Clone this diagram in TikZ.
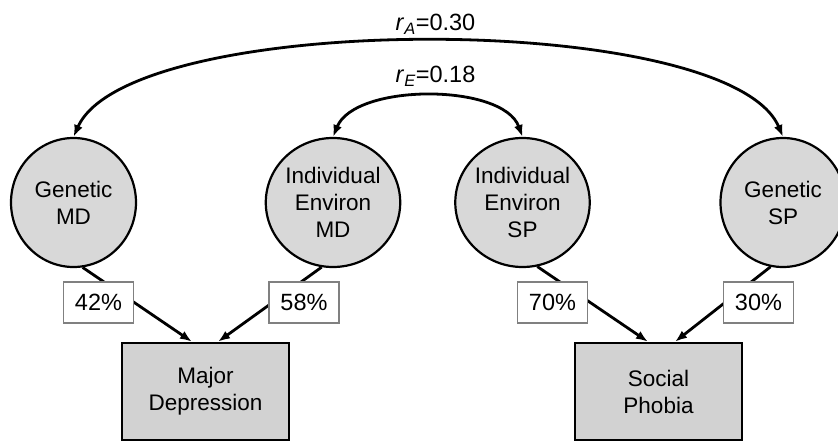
\documentclass[tikz,border=0pt]{standalone}
\usepackage{fontspec}
\setmainfont{Liberation Sans}
\usetikzlibrary{arrows.meta,shapes.geometric}
\definecolor{latentfill}{HTML}{D8D8D8}
\definecolor{obsfill}{HTML}{D2D2D2}
\definecolor{pathframe}{HTML}{808080}
\begin{document}
\begin{tikzpicture}[x=1pt,y=-1pt,
  latent/.style={ellipse,draw=black,line width=2.2pt,fill=latentfill,
    minimum width=125pt,minimum height=129pt,inner sep=0pt,align=center,
    font=\fontsize{22.5}{27}\selectfont},
  observed/.style={rectangle,draw=black,line width=2.5pt,fill=obsfill,
    minimum width=167pt,minimum height=97pt,inner sep=0pt,align=center,
    font=\fontsize{22.5}{27}\selectfont},
  pathval/.style={rectangle,draw=pathframe,line width=1.1pt,fill=white,
    minimum width=70pt,minimum height=41pt,inner sep=0pt,
    font=\fontsize{23.5}{27}\selectfont},
  corrlabel/.style={anchor=base,inner sep=0pt,font=\fontsize{23.5}{27}\selectfont},
  path/.style={line width=2.8pt,-{Latex[length=12pt,width=9pt]}},
  corr/.style={line width=2.8pt,{Latex[length=12pt,width=9pt]}-{Latex[length=12pt,width=9pt]}}
]
\useasboundingbox (0,0) rectangle (838,441);

% latent factors
\node[latent] (gmd) at (73.5,202.5) {Genetic\\MD};
\node[latent] (emd) at (333,202.5) {Individual\\Environ\\MD};
\node[latent] (esp) at (522.5,202.5) {Individual\\Environ\\SP};
\node[latent] (gsp) at (783,202.5) {Genetic\\SP};

% observed disorders
\node[observed] (md) at (205.5,391.5) {Major\\Depression};
\node[observed] (sp) at (658.5,391.5) {Social\\Phobia};

% correlations between factors
\draw[corr] (gmd.north) .. controls (130,10) and (729,10) .. (gsp.north);
\draw[corr] (emd.north) .. controls (355,83) and (503,83) .. (esp.north);
\node[corrlabel] (ra) at (435.5,31) {\textit{r}\textsubscript{\textit{A}}=0.30};
\node[corrlabel] (re) at (435.5,83) {\textit{r}\textsubscript{\textit{E}}=0.18};

% paths from factors to disorders
\draw[path] (gmd.-82) -- ([xshift=-13.5pt]md.north);
\draw[path] (emd.-100) -- ([xshift=12.5pt]md.north);
\draw[path] (esp.-77) -- ([xshift=-10.5pt]sp.north);
\draw[path] (gsp.-101) -- ([xshift=16.5pt]sp.north);

% path coefficients
\node[pathval] (p1) at (98.5,302.5) {42\%};
\node[pathval] (p2) at (304,302.5) {58\%};
\node[pathval] (p3) at (552.5,302.5) {70\%};
\node[pathval] (p4) at (758.5,302.5) {30\%};
\end{tikzpicture}
\end{document}
